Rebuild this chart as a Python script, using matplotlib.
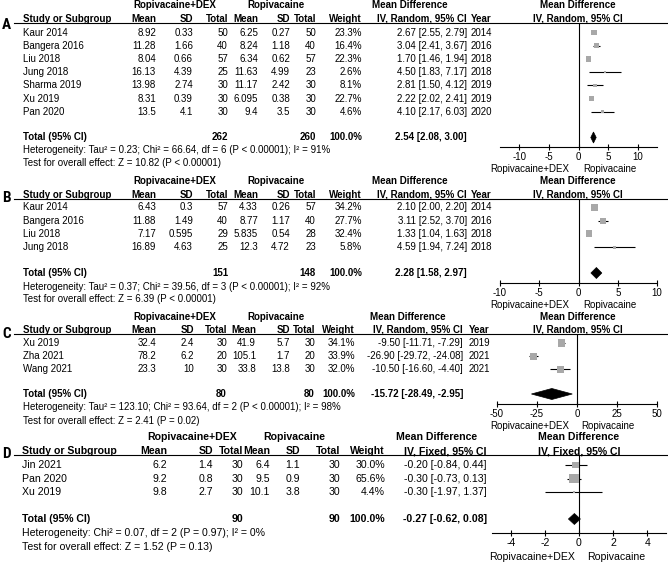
import math
import matplotlib
matplotlib.use("Agg")
import matplotlib.pyplot as plt
from matplotlib.lines import Line2D
from matplotlib.patches import Polygon
from matplotlib import font_manager as fm

W, H = 668, 564
BODY = ['Liberation Sans', 'DejaVu Sans']
plt.rcParams['font.family'] = BODY
GREY = '#a8a8a8'

# condensed bold font for the panel letters, if one is installed
LETTER_PROP = None
_cands = []
for f in fm.fontManager.ttflist:
    fn = f.fname.lower()
    if ('narrow' in fn or 'condensed' in fn) and 'oblique' not in fn and 'italic' not in fn:
        score = (2 if 'bold' in fn else 0) + (1 if 'liberation' in fn else 0)
        _cands.append((score, f.fname))
if _cands:
    _cands.sort(reverse=True)
    LETTER_PROP = fm.FontProperties(fname=_cands[0][1], size=11)

# ---------------- data ----------------
A_study = ["Kaur 2014", "Bangera 2016", "Liu 2018", "Jung 2018", "Sharma 2019", "Xu 2019", "Pan 2020"]
A_dex_mean = [8.92, 11.28, 8.04, 16.13, 13.98, 8.31, 13.5]
A_dex_sd = [0.33, 1.66, 0.66, 4.39, 2.74, 0.39, 4.1]
A_dex_n = [50, 40, 57, 25, 30, 30, 30]
A_rop_mean = [6.25, 8.24, 6.34, 11.63, 11.17, 6.095, 9.4]
A_rop_sd = [0.27, 1.18, 0.62, 4.99, 2.42, 0.38, 3.5]
A_rop_n = [50, 40, 57, 23, 30, 30, 30]
A_weight = [23.3, 16.4, 22.3, 2.6, 8.1, 22.7, 4.6]
A_md = [2.67, 3.04, 1.70, 4.50, 2.81, 2.22, 4.10]
A_lo = [2.55, 2.41, 1.46, 1.83, 1.50, 2.02, 2.17]
A_hi = [2.79, 3.67, 1.94, 7.17, 4.12, 2.41, 6.03]
A_year = [2014, 2016, 2018, 2018, 2019, 2019, 2020]
A_total = [2.54, 2.08, 3.00]
A_het = "Heterogeneity: Tau² = 0.23; Chi² = 66.64, df = 6 (P < 0.00001); I² = 91%"
A_test = "Test for overall effect: Z = 10.82 (P < 0.00001)"

B_study = ["Kaur 2014", "Bangera 2016", "Liu 2018", "Jung 2018"]
B_dex_mean = [6.43, 11.88, 7.17, 16.89]
B_dex_sd = [0.3, 1.49, 0.595, 4.63]
B_dex_n = [57, 40, 29, 25]
B_rop_mean = [4.33, 8.77, 5.835, 12.3]
B_rop_sd = [0.26, 1.17, 0.54, 4.72]
B_rop_n = [57, 40, 28, 23]
B_weight = [34.2, 27.7, 32.4, 5.8]
B_md = [2.10, 3.11, 1.33, 4.59]
B_lo = [2.00, 2.52, 1.04, 1.94]
B_hi = [2.20, 3.70, 1.63, 7.24]
B_year = [2014, 2016, 2018, 2018]
B_total = [2.28, 1.58, 2.97]
B_het = "Heterogeneity: Tau² = 0.37; Chi² = 39.56, df = 3 (P < 0.00001); I² = 92%"
B_test = "Test for overall effect: Z = 6.39 (P < 0.00001)"

C_study = ["Xu 2019", "Zha 2021", "Wang 2021"]
C_dex_mean = [32.4, 78.2, 23.3]
C_dex_sd = [2.4, 6.2, 10]
C_dex_n = [30, 20, 30]
C_rop_mean = [41.9, 105.1, 33.8]
C_rop_sd = [5.7, 1.7, 13.8]
C_rop_n = [30, 20, 30]
C_weight = [34.1, 33.9, 32.0]
C_md = [-9.50, -26.90, -10.50]
C_lo = [-11.71, -29.72, -16.60]
C_hi = [-7.29, -24.08, -4.40]
C_year = [2019, 2021, 2021]
C_total = [-15.72, -28.49, -2.95]
C_het = "Heterogeneity: Tau² = 123.10; Chi² = 93.64, df = 2 (P < 0.00001); I² = 98%"
C_test = "Test for overall effect: Z = 2.41 (P = 0.02)"

D_study = ["Jin 2021", "Pan 2020", "Xu 2019"]
D_dex_mean = [6.2, 9.2, 9.8]
D_dex_sd = [1.4, 0.8, 2.7]
D_dex_n = [30, 30, 30]
D_rop_mean = [6.4, 9.5, 10.1]
D_rop_sd = [1.1, 0.9, 3.8]
D_rop_n = [30, 30, 30]
D_weight = [30.0, 65.6, 4.4]
D_md = [-0.20, -0.30, -0.30]
D_lo = [-0.84, -0.73, -1.97]
D_hi = [0.44, 0.13, 1.37]
D_total = [-0.27, -0.62, 0.08]
D_het = "Heterogeneity: Chi² = 0.07, df = 2 (P = 0.97); I² = 0%"
D_test = "Test for overall effect: Z = 1.52 (P = 0.13)"

TOTAL_WEIGHT = 100.0

A_ticks = [-10, -5, 0, 5, 10]
B_ticks = [-10, -5, 0, 5, 10]
C_ticks = [-50, -25, 0, 25, 50]
D_ticks = [-4, -2, 0, 2, 4]

# ---------------- layout ----------------
fig = plt.figure(figsize=(W / 100, H / 100), dpi=100)


def T(x, y, s, ha='left', bold=False, fs=7, prop=None):
    if prop is not None:
        fig.text(x / W, 1 - y / H, s, ha=ha, va='center', fontproperties=prop)
    else:
        fig.text(x / W, 1 - y / H, s, ha=ha, va='center', fontsize=fs,
                 fontweight='bold' if bold else 'normal', family=BODY)


COLS_AB = dict(m1=156, s1=193, n1=228, m2=258, s2=290, n2=316, w=362, md=467, yr=492,
               dex_c=175, rop_c=276, md_c=410, fp_c=578)
COLS_C = dict(m1=156, s1=194, n1=227, m2=256, s2=290, n2=315, w=355, md=463, yr=490,
              dex_c=175, rop_c=276, md_c=408, fp_c=578)
COLS_D = dict(m1=167, s1=213, n1=243, m2=270, s2=300, n2=340, w=385, md=487, yr=None,
              dex_c=192, rop_c=294, md_c=437, fp_c=579)

panels = [
    dict(letter='A', study=A_study, m1=A_dex_mean, s1=A_dex_sd, n1=A_dex_n, m2=A_rop_mean, s2=A_rop_sd,
         n2=A_rop_n, w=A_weight, md=A_md, lo=A_lo, hi=A_hi, yr=A_year, tot=A_total, het=A_het, test=A_test,
         method='IV, Random, 95% CI', cols=COLS_AB, fs=7, h1=5.5, h2=18.5, line=23, row0=32.5, dy=13.2,
         total=137.5, hety=150, testy=162.5, axis=147, xlim=(-13.3, 13.3), ax_x=(500, 657), ticks=A_ticks,
         study_x=23, side=(9, 5, 22), lety=25),
    dict(letter='B', study=B_study, m1=B_dex_mean, s1=B_dex_sd, n1=B_dex_n, m2=B_rop_mean, s2=B_rop_sd,
         n2=B_rop_n, w=B_weight, md=B_md, lo=B_lo, hi=B_hi, yr=B_year, tot=B_total, het=B_het, test=B_test,
         method='IV, Random, 95% CI', cols=COLS_AB, fs=7, h1=181.5, h2=194.5, line=199, row0=207.5, dy=13.2,
         total=273, hety=286.5, testy=299.5, axis=283, xlim=(-10, 10), ax_x=(500, 657), ticks=B_ticks,
         study_x=23, side=(9, 5, 22), lety=198),
    dict(letter='C', study=C_study, m1=C_dex_mean, s1=C_dex_sd, n1=C_dex_n, m2=C_rop_mean, s2=C_rop_sd,
         n2=C_rop_n, w=C_weight, md=C_md, lo=C_lo, hi=C_hi, yr=C_year, tot=C_total, het=C_het, test=C_test,
         method='IV, Random, 95% CI', cols=COLS_C, fs=7, h1=317, h2=330, line=334, row0=343, dy=13.2,
         total=394, hety=407.5, testy=420.5, axis=404, xlim=(-50, 50), ax_x=(497, 657), ticks=C_ticks,
         study_x=23, side=(8, 4, 22), lety=334),
    dict(letter='D', study=D_study, m1=D_dex_mean, s1=D_dex_sd, n1=D_dex_n, m2=D_rop_mean, s2=D_rop_sd,
         n2=D_rop_n, w=D_weight, md=D_md, lo=D_lo, hi=D_hi, yr=None, tot=D_total, het=D_het, test=D_test,
         method='IV, Fixed, 95% CI', cols=COLS_D, fs=7.6, h1=437.5, h2=451, line=455, row0=465, dy=13.6,
         total=519, hety=533, testy=546.5, axis=533, xlim=(-5.1, 5.1), ax_x=(492, 666), ticks=D_ticks,
         study_x=22, side=(4, 8, 24), lety=454),
]

for P in panels:
    fs = P['fs']
    c = P['cols']
    if LETTER_PROP is not None:
        T(2, P['lety'], P['letter'], prop=LETTER_PROP)
    else:
        T(1, P['lety'], P['letter'], fs=10)
    fig.add_artist(Line2D([14 / W, 1.0], [1 - P['line'] / H] * 2, color='black', lw=0.8))
    # header row 1
    T(c['dex_c'], P['h1'], 'Ropivacaine+DEX', ha='center', bold=True, fs=fs)
    T(c['rop_c'], P['h1'], 'Ropivacaine', ha='center', bold=True, fs=fs)
    T(c['md_c'], P['h1'], 'Mean Difference', ha='center', bold=True, fs=fs)
    T(c['fp_c'], P['h1'], 'Mean Difference', ha='center', bold=True, fs=fs)
    # header row 2
    T(P['study_x'], P['h2'], 'Study or Subgroup', bold=True, fs=fs)
    for key, lab in [('m1', 'Mean'), ('s1', 'SD'), ('n1', 'Total'), ('m2', 'Mean'), ('s2', 'SD'),
                     ('n2', 'Total'), ('w', 'Weight'), ('md', P['method'])]:
        T(c[key], P['h2'], lab, ha='right', bold=True, fs=fs)
    if P['yr'] is not None:
        T(c['yr'], P['h2'], 'Year', ha='right', bold=True, fs=fs)
    T(c['fp_c'], P['h2'], P['method'], ha='center', bold=True, fs=fs)

    n = len(P['study'])
    rows = [P['row0'] + P['dy'] * i for i in range(n)]
    for i, y in enumerate(rows):
        T(P['study_x'], y, P['study'][i], fs=fs)
        T(c['m1'], y, str(P['m1'][i]), ha='right', fs=fs)
        T(c['s1'], y, str(P['s1'][i]), ha='right', fs=fs)
        T(c['n1'], y, str(P['n1'][i]), ha='right', fs=fs)
        T(c['m2'], y, str(P['m2'][i]), ha='right', fs=fs)
        T(c['s2'], y, str(P['s2'][i]), ha='right', fs=fs)
        T(c['n2'], y, str(P['n2'][i]), ha='right', fs=fs)
        T(c['w'], y, f"{P['w'][i]:.1f}%", ha='right', fs=fs)
        T(c['md'], y, f"{P['md'][i]:.2f} [{P['lo'][i]:.2f}, {P['hi'][i]:.2f}]", ha='right', fs=fs)
        if P['yr'] is not None:
            T(c['yr'], y, str(P['yr'][i]), ha='right', fs=fs)

    ty = P['total']
    tm, tl, th = P['tot']
    T(P['study_x'], ty, 'Total (95% CI)', bold=True, fs=fs)
    T(c['n1'], ty, str(sum(P['n1'])), ha='right', bold=True, fs=fs)
    T(c['n2'], ty, str(sum(P['n2'])), ha='right', bold=True, fs=fs)
    T(c['w'], ty, f"{TOTAL_WEIGHT:.1f}%", ha='right', bold=True, fs=fs)
    T(c['md'], ty, f"{tm:.2f} [{tl:.2f}, {th:.2f}]", ha='right', bold=True, fs=fs)
    T(P['study_x'], P['hety'], P['het'], fs=fs)
    T(P['study_x'], P['testy'], P['test'], fs=fs)

    # forest plot
    x0, x1 = P['ax_x']
    ax = fig.add_axes([x0 / W, 1 - P['axis'] / H, (x1 - x0) / W, (P['axis'] - P['line']) / H])
    ax.set_xlim(*P['xlim'])
    ax.set_ylim(P['axis'], P['line'])
    ax.patch.set_visible(False)
    for s in ['top', 'left', 'right']:
        ax.spines[s].set_visible(False)
    ax.spines['bottom'].set_linewidth(0.8)
    ax.set_yticks([])
    ax.set_xticks(P['ticks'])
    ax.set_xticklabels([f"{t:g}" for t in P['ticks']], fontsize=fs)
    ax.tick_params(axis='x', direction='inout', length=4.5, width=0.8, pad=1.5)
    ax.axvline(0, color='black', lw=0.8)
    ax.hlines(rows, P['lo'], P['hi'], color='black', lw=0.8, zorder=2)
    sizes = [(1.2 * math.sqrt(w) * 0.72) ** 2 for w in P['w']]
    ax.scatter(P['md'], rows, s=sizes, marker='s', color=GREY, linewidths=0, zorder=3, clip_on=False)
    ax.add_patch(Polygon([(tl, ty), (tm, ty - 5.5), (th, ty), (tm, ty + 5.5)], closed=True,
                         facecolor='black', edgecolor='black', lw=0.5, zorder=4, clip_on=False))
    # side labels
    zero_px = x0 + (0 - P['xlim'][0]) / (P['xlim'][1] - P['xlim'][0]) * (x1 - x0)
    dl, dr, dy = P['side']
    T(zero_px - dl, P['axis'] + dy, 'Ropivacaine+DEX', ha='right', fs=fs)
    T(zero_px + dr, P['axis'] + dy, 'Ropivacaine', ha='left', fs=fs)

fig.savefig('out.png', dpi=100)
